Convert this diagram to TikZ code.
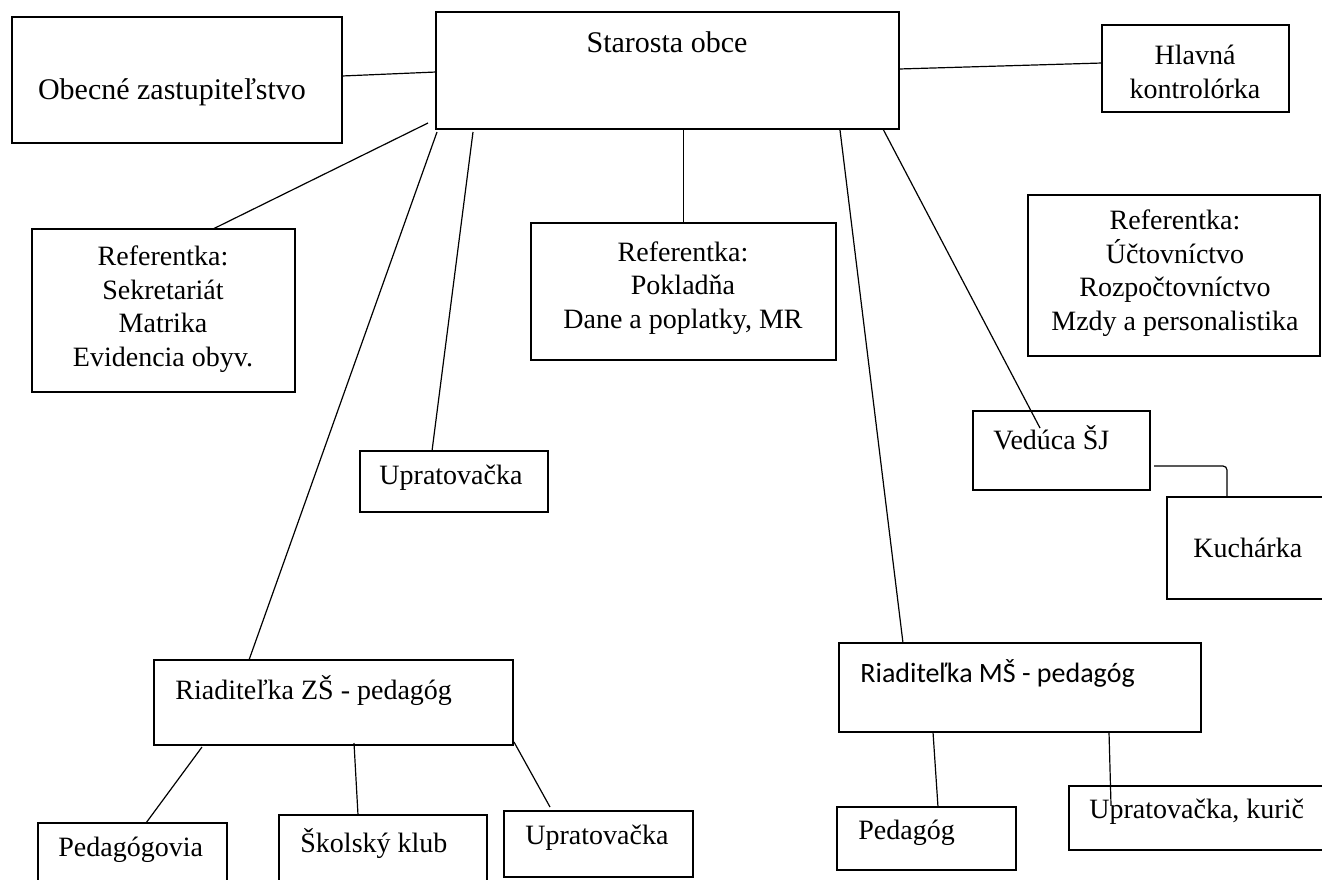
\documentclass[tikz,border=0pt]{standalone}
\usepackage{fontspec}
\setmainfont{Liberation Serif}
\newfontfamily\calib{Carlito}
\begin{document}
\begin{tikzpicture}[x=0.5pt,y=-0.5pt,
  box/.style={draw=black, line width=1.1pt, rectangle, inner sep=0pt, outer sep=0pt},
  lbl/.style={inner sep=0pt, font=\fontsize{14}{16.75}\selectfont, align=center},
  biglbl/.style={inner sep=0pt, font=\fontsize{15}{18}\selectfont, align=center},
  conn/.style={draw=black, line width=0.6pt}]
\useasboundingbox (0,0) rectangle (1322,879);
\clip (0,0) rectangle (1322,879);
\fill[white] (0,0) rectangle (1322,879);

% boxes
\node[box, minimum width=165pt, minimum height=63pt] (ob) at (177,80) {};
\node[box, minimum width=231.5pt, minimum height=58.5pt] (st) at (667.5,70.5) {};
\node[box, minimum width=93.5pt, minimum height=43.5pt] (hk) at (1195.5,68.5) {};
\node[box, minimum width=131.5pt, minimum height=81.5pt] (sek) at (163.5,310.5) {};
\node[box, minimum width=152.5pt, minimum height=68.5pt] (pok) at (683.5,291.5) {};
\node[box, minimum width=146pt, minimum height=80.5pt] (uct) at (1174,275.5) {};
\node[box, minimum width=94pt, minimum height=30.5pt] (up1) at (454,481.5) {};
\node[box, minimum width=88.5pt, minimum height=39.5pt] (ved) at (1061.5,450.5) {};
\node[box, minimum width=89pt, minimum height=51pt] (kuch) at (1256,548) {};
\node[box, minimum width=179.5pt, minimum height=42.5pt] (zs) at (333.5,702.5) {};
\node[box, minimum width=181pt, minimum height=44.5pt] (ms) at (1020,687.5) {};
\node[box, minimum width=94.5pt, minimum height=38.5pt] (ped1) at (132.5,861.5) {};
\node[box, minimum width=104pt, minimum height=42.5pt] (sk) at (383,857.5) {};
\node[box, minimum width=94.5pt, minimum height=33pt] (up2) at (598.5,844) {};
\node[box, minimum width=89.5pt, minimum height=31.5pt] (ped2) at (926.5,838.5) {};
\node[box, minimum width=138pt, minimum height=32pt] (upk) at (1207,818) {};

% texts
\node[biglbl] (tob) at (172,92) {Obecné zastupiteľstvo};
\node[biglbl] (tst) at (667,42) {Starosta obce};
\node[lbl] (thk) at (1195,72) {Hlavná\\kontrolórka};
\node[lbl] (tsek) at (163,309) {Referentka:\\Sekretariát\\Matrika\\Evidencia obyv.};
\node[lbl] (tpok) at (683,288) {Referentka:\\Pokladňa\\Dane a poplatky, MR};
\node[lbl] (tuct) at (1175,273) {Referentka:\\Účtovníctvo\\Rozpočtovníctvo\\Mzdy a personalistika};
\node[lbl] (tup1) at (451,478) {Upratovačka};
\node[lbl, anchor=west] (tved) at (993,438) {Vedúca ŠJ};
\node[lbl, anchor=west] (tkuch) at (1193,548) {Kuchárka};
\node[lbl, anchor=west] (tzs) at (175,690) {Riaditeľka ZŠ - pedagóg};
\node[lbl, anchor=west, font=\calib\fontsize{14}{16.75}\selectfont] (tms) at (860,673) {Riaditeľka MŠ - pedagóg};
\node[lbl, anchor=west] (tped1) at (58,850) {Pedagógovia};
\node[lbl, anchor=west] (tsk) at (300,843) {Školský klub};
\node[lbl, anchor=west] (tup2) at (525,838) {Upratovačka};
\node[lbl, anchor=west] (tped2) at (858,833) {Pedagóg};
\node[lbl, anchor=west] (tupk) at (1089,812) {Upratovačka, kurič};

% connectors
\draw[conn] ([yshift=2pt]ob.east) -- ([yshift=-0.75pt]st.west);
\draw[conn] ([yshift=0.75pt]st.east) -- ([yshift=2.75pt]hk.west);
\draw[conn] ([xshift=24.75pt]sek.north) -- ([xshift=-4pt,yshift=3pt]st.south west);
\draw[conn] ([xshift=0.5pt,yshift=-1.5pt]st.south west) -- ([xshift=47.5pt]zs.north west);
\draw[conn] ([xshift=18.5pt,yshift=-1.5pt]st.south west) -- ([xshift=36pt]up1.north west);
\draw[conn] (pok.north |- st.south) -- (pok.north);
\draw[conn] ([xshift=-29.5pt,yshift=-0.5pt]st.south east) -- ([xshift=32pt]ms.north west);
\draw[conn] ([xshift=-8pt]st.south east) -- ([xshift=33.5pt,yshift=-8.5pt]ved.north west);
\draw[conn, rounded corners=2pt] ([xshift=2pt,yshift=-7.75pt]ved.east) -| ([xshift=30pt]kuch.north west);
\draw[conn] ([xshift=24pt,yshift=-1pt]zs.south west) -- ([xshift=54pt]ped1.north west);
\draw[conn] ([xshift=100pt,yshift=1pt]zs.south west) -- ([xshift=39.5pt]sk.north west);
\draw[conn] ([xshift=0.5pt,yshift=1.5pt]zs.south east) -- ([xshift=23pt,yshift=2pt]up2.north west);
\draw[conn] ([xshift=47pt]ms.south west) -- ([xshift=50.5pt]ped2.north west);
\draw[conn] ([xshift=135pt]ms.south west) -- ([xshift=21pt,yshift=-9.5pt]upk.north west);
\end{tikzpicture}
\end{document}
